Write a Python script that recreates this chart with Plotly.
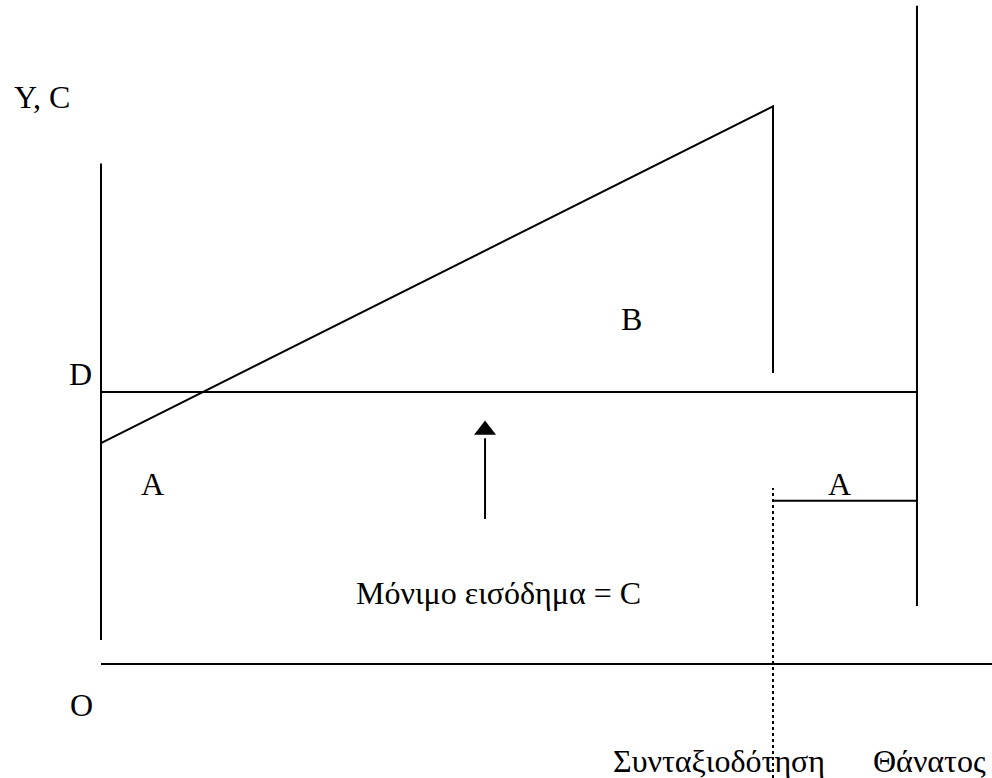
import plotly.graph_objects as go

# Diagram data (time on x, income/consumption on y)
t_start = 0.0          # start of working life (vertical axis)
t_retire = 40.0        # retirement (Συνταξιοδότηση)
t_death = 48.57        # death (Θάνατος)
t_right = 53.04        # right end of the time axis

income_start = 8.12    # labour income at start
income_peak = 20.5     # labour income at retirement
income_drop = 10.7     # bottom of the vertical drop at retirement
permanent = 10.0       # permanent income level D = C
pension = 6.0          # pension level after retirement
death_top = 24.2
death_bottom = 2.13
yaxis_top = 18.4
yaxis_bottom = 0.88
dotted_top = 6.47
dotted_bottom = -4.19
arrow_x = 22.86
arrow_from = 5.33
arrow_to = 8.6

font = dict(family="Liberation Serif", size=32, color="black")

fig = go.Figure()

def seg(xs, ys, dash=None, width=2):
    fig.add_trace(go.Scatter(x=xs, y=ys, mode="lines",
                             line=dict(color="black", width=width, dash=dash),
                             hoverinfo="skip", showlegend=False))

# vertical axis
seg([t_start, t_start], [yaxis_bottom, yaxis_top])
# horizontal axis
seg([t_start, t_right], [0, 0])
# income line rising then falling at retirement
seg([t_start, t_retire, t_retire], [income_start, income_peak, income_drop])
# permanent income level D
seg([t_start, t_death], [permanent, permanent])
# pension level
seg([t_retire, t_death], [pension, pension])
# death vertical
seg([t_death, t_death], [death_bottom, death_top])
# dotted retirement marker
seg([t_retire, t_retire], [dotted_bottom, dotted_top], dash="dot", width=2)
# arrow shaft
seg([arrow_x, arrow_x], [arrow_from, arrow_to - 0.3])
# arrow head
fig.add_trace(go.Scatter(x=[arrow_x], y=[arrow_to], mode="markers",
                         marker=dict(symbol="triangle-up", size=19, color="black"),
                         hoverinfo="skip", showlegend=False))

labels = [
    ("Y, C", -3.51, 20.85),
    ("D", -1.25, 10.65),
    ("A", 3.04, 6.6),
    ("B", 31.55, 12.7),
    ("A", 43.93, 6.6),
    ("O", -1.19, -1.5),
    ("Μόνιμο εισόδημα = C", 23.69, 2.6),
    ("Συνταξιοδότηση", 36.8, -3.55),
    ("Θάνατος", 49.3, -3.55),
]
for txt, x, y in labels:
    fig.add_annotation(x=x, y=y, text=txt, showarrow=False, font=font,
                       xanchor="center", yanchor="middle")

fig.update_layout(
    width=992, height=778,
    margin=dict(l=0, r=0, t=0, b=0),
    paper_bgcolor="white", plot_bgcolor="white",
    xaxis=dict(range=[-6.012, 53.036], visible=False, fixedrange=True),
    yaxis=dict(range=[-4.191, 24.412], visible=False, fixedrange=True),
)

fig.write_html("out.html",
               config={"displayModeBar": False, "staticPlot": True},
               post_script="document.body.style.margin='0';document.body.style.overflow='hidden';")
